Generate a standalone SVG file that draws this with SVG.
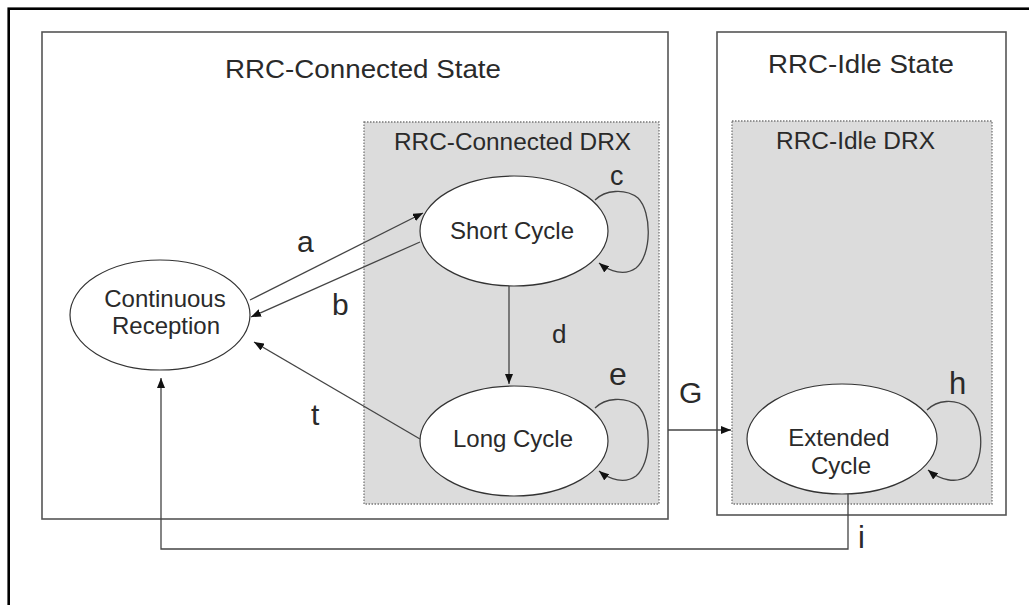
<svg xmlns="http://www.w3.org/2000/svg" width="1029" height="605" viewBox="0 0 1029 605">
<style>
text{font-family:"Liberation Sans",Arial,sans-serif;fill:#2a2a2a}
.state{fill:#fff;stroke:#555;stroke-width:1.6}
.drx{fill:#dcdcdc;stroke:#777;stroke-width:1.3;stroke-dasharray:1.5 1.5}
.node{fill:#fff;stroke:#333;stroke-width:1.2}
.title{font-size:25px}
.sub{font-size:23px}
.nl{font-size:24px;text-anchor:middle}
.edge{fill:none;stroke:#444;stroke-width:1.3;marker-end:url(#arr)}
.lbl{font-size:30px}
</style>
<defs>
<marker id="arr" viewBox="0 0 10 8" refX="10" refY="4" markerWidth="10" markerHeight="8" markerUnits="userSpaceOnUse" orient="auto">
<path d="M0,0 L10,4 L0,8 Z" fill="#111"/>
</marker>
</defs>
<rect x="0" y="0" width="1029" height="605" fill="#fff"/>
<rect x="8.7" y="8.7" width="1100" height="700" fill="none" stroke="#000" stroke-width="2.6"/>

<g id="rrc-connected-state">
<rect class="state" x="42" y="32" width="626" height="487"/>
<text class="title" x="225" y="78" textLength="276" lengthAdjust="spacingAndGlyphs">RRC-Connected State</text>
</g>
<g id="rrc-connected-drx">
<rect class="drx" x="364" y="122" width="295" height="382"/>
<text class="sub" x="394" y="150" textLength="237" lengthAdjust="spacingAndGlyphs">RRC-Connected DRX</text>
</g>
<g id="rrc-idle-state">
<rect class="state" x="717" y="32" width="289" height="483"/>
<text class="title" x="768" y="73" textLength="186" lengthAdjust="spacingAndGlyphs">RRC-Idle State</text>
</g>
<g id="rrc-idle-drx">
<rect class="drx" x="732" y="121" width="260" height="383"/>
<text class="sub" x="776" y="149" textLength="159" lengthAdjust="spacingAndGlyphs">RRC-Idle DRX</text>
</g>

<g id="continuous-reception">
<ellipse class="node" cx="160" cy="315" rx="90" ry="55"/>
<text class="nl" x="165" y="307">Continuous</text>
<text class="nl" x="166" y="334">Reception</text>
</g>
<g id="short-cycle">
<ellipse class="node" cx="514" cy="231" rx="94" ry="55"/>
<text class="nl" x="512" y="239">Short Cycle</text>
</g>
<g id="long-cycle">
<ellipse class="node" cx="514" cy="441" rx="94" ry="55"/>
<text class="nl" x="513" y="447">Long Cycle</text>
</g>
<g id="extended-cycle">
<ellipse class="node" cx="842" cy="439" rx="95" ry="55"/>
<text class="nl" x="839" y="446">Extended</text>
<text class="nl" x="841" y="474">Cycle</text>
</g>

<g id="connectors">
<path class="edge" d="M250,300 L423,213"/>
<path class="edge" d="M420,242 L251,317"/>
<path class="edge" d="M509,286 L509,384"/>
<path class="edge" d="M420,439 L254,342"/>
<path class="edge" d="M595,200 C605,190 625,188 638,198 C652,212 652,255 636,268 C625,276 610,272 599,263"/>
<path class="edge" d="M595,408 C605,398 625,396 638,406 C652,420 652,463 636,476 C625,484 610,480 599,471"/>
<path class="edge" d="M927,410 C937,400 955,398 968,408 C985,422 985,462 968,476 C956,484 940,480 928,470"/>
<path class="edge" d="M668,430 L731,430"/>
<path class="edge" d="M848,494 L848,549 L161,549 L161,378"/>
<text class="lbl" x="297" y="252">a</text>
<text class="lbl" x="332" y="315" font-size="29">b</text>
<text class="lbl" x="610" y="185" style="font-size:27px">c</text>
<text class="lbl" x="552" y="343" style="font-size:26px">d</text>
<text class="lbl" x="609" y="385" style="font-size:32px">e</text>
<text class="lbl" x="679" y="403">G</text>
<text class="lbl" x="311" y="425">t</text>
<text class="lbl" x="949" y="394" style="font-size:31px">h</text>
<text class="lbl" x="858" y="548" style="font-size:31px">i</text>
</g>
</svg>
